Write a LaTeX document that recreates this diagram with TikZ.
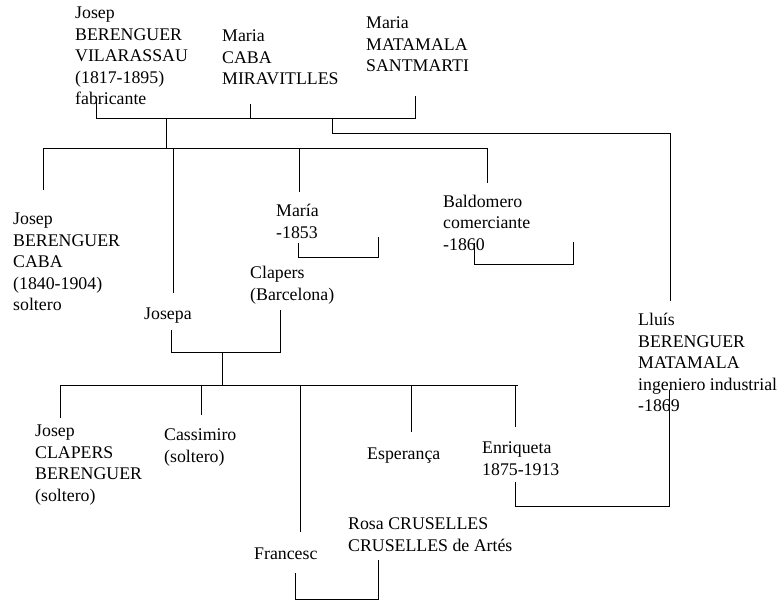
\documentclass[tikz,border=0pt]{standalone}
\usepackage{fontspec}
\setmainfont{Liberation Serif}
\begin{document}
\begin{tikzpicture}[x=1pt,y=-1pt,
  person/.style={anchor=north west,inner sep=0pt,align=left,yshift=15.05pt,
    font=\fontsize{17.8}{21.5}\selectfont,execute at begin node=\strut},
  link/.style={line width=0.9pt,black}]
\useasboundingbox (0,0) rectangle (781,601);
% ---- people (coordinates give the first baseline)
\node[person] (jbv) at (75,22) {Josep\\BERENGUER\\VILARASSAU\\(1817-1895)\\fabricante};
\node[person] (mcm) at (222,45) {Maria\\CABA\\MIRAVITLLES};
\node[person] (mms) at (366,32) {Maria\\MATAMALA\\SANTMARTI};
\node[person] (jbc) at (13,228) {Josep\\BERENGUER\\CABA\\(1840-1904)\\soltero};
\node[person] (jpa) at (144,319) {Josepa};
\node[person] (mar) at (276,219) {María\\-1853};
\node[person] (cla) at (250,281) {Clapers\\(Barcelona)};
\node[person] (bal) at (443,210) {Baldomero\\comerciante\\-1860};
\node[person] (llu) at (638,328) {Lluís\\BERENGUER\\MATAMALA\\ingeniero industrial\\-1869};
\node[person] (jcb) at (35,440) {Josep\\CLAPERS\\BERENGUER\\(soltero)};
\node[person] (cas) at (164,444) {Cassimiro\\(soltero)};
\node[person] (fra) at (254,559) {Francesc};
\node[person] (ros) at (348,533) {Rosa CRUSELLES\\CRUSELLES de Artés};
\node[person] (esp) at (367,459) {Esperança};
\node[person] (enr) at (482,457) {Enriqueta\\1875-1913};
% ---- coordinates
\coordinate (jbvT) at (96,99);
\coordinate (mcmT) at (250,104);
\coordinate (mmsT) at (415,96);
\coordinate (bar1L) at (96,118);
\coordinate (bar1C) at (250,118);
\coordinate (bar1R) at (415,118);
\coordinate (d1) at (166,118);
\coordinate (d1b) at (166,148);
\coordinate (d2) at (332,118);
\coordinate (d2b) at (332,133);
\coordinate (d2r) at (670,133);
\coordinate (lluT) at (670,301);
\coordinate (kbL) at (43,148);
\coordinate (kbR) at (487,148);
\coordinate (jbcT) at (43,190);
\coordinate (jpaB) at (173,148);
\coordinate (jpaT) at (173,293);
\coordinate (marB) at (299,148);
\coordinate (marT) at (299,192);
\coordinate (balT) at (487,183);
% María bracket
\coordinate (mb1) at (298,243);
\coordinate (mb2) at (298,257);
\coordinate (mb3) at (378,257);
\coordinate (mb4) at (378,237);
% Baldomero bracket
\coordinate (bb1) at (474,243);
\coordinate (bb2) at (474,264);
\coordinate (bb3) at (573,264);
\coordinate (bb4) at (573,242);
% Josepa - Clapers
\coordinate (jc1) at (171,330);
\coordinate (jc2) at (171,352);
\coordinate (jc3) at (280,352);
\coordinate (jc4) at (280,310);
\coordinate (jcm) at (222,352);
\coordinate (jcd) at (222,385);
% grandchildren bar
\coordinate (gbL) at (60,385);
\coordinate (gbR) at (518,385);
\coordinate (g1) at (60,418);
\coordinate (g2b) at (201,385);
\coordinate (g2) at (201,415);
\coordinate (g3b) at (300,385);
\coordinate (g3) at (300,532);
\coordinate (g4b) at (411,385);
\coordinate (g4) at (411,432);
\coordinate (g5b) at (515,385);
\coordinate (g5) at (515,427);
% Francesc - Rosa
\coordinate (fr1) at (295,573);
\coordinate (fr2) at (295,599);
\coordinate (fr3) at (378,599);
\coordinate (fr4) at (378,560);
% Enriqueta - Lluís
\coordinate (el1) at (515,482);
\coordinate (el2) at (515,506);
\coordinate (el3) at (669,506);
\coordinate (el4) at (669,390);
% ---- connectors
\draw[link] (jbvT) -- (bar1L) -- (bar1R) -- (mmsT);
\draw[link] (mcmT) -- (bar1C);
\draw[link] (d1) -- (d1b);
\draw[link] (d2) -- (d2b) -- (d2r) -- (lluT);
\draw[link] (jbcT) -- (kbL) -- (kbR) -- (balT);
\draw[link] (jpaB) -- (jpaT);
\draw[link] (marB) -- (marT);
\draw[link] (mb1) -- (mb2) -- (mb3) -- (mb4);
\draw[link] (bb1) -- (bb2) -- (bb3) -- (bb4);
\draw[link] (jc1) -- (jc2) -- (jc3) -- (jc4);
\draw[link] (jcm) -- (jcd);
\draw[link] (g1) -- (gbL) -- (gbR);
\draw[link] (g2b) -- (g2);
\draw[link] (g3b) -- (g3);
\draw[link] (g4b) -- (g4);
\draw[link] (g5b) -- (g5);
\draw[link] (fr1) -- (fr2) -- (fr3) -- (fr4);
\draw[link] (el1) -- (el2) -- (el3) -- (el4);
\end{tikzpicture}
\end{document}
